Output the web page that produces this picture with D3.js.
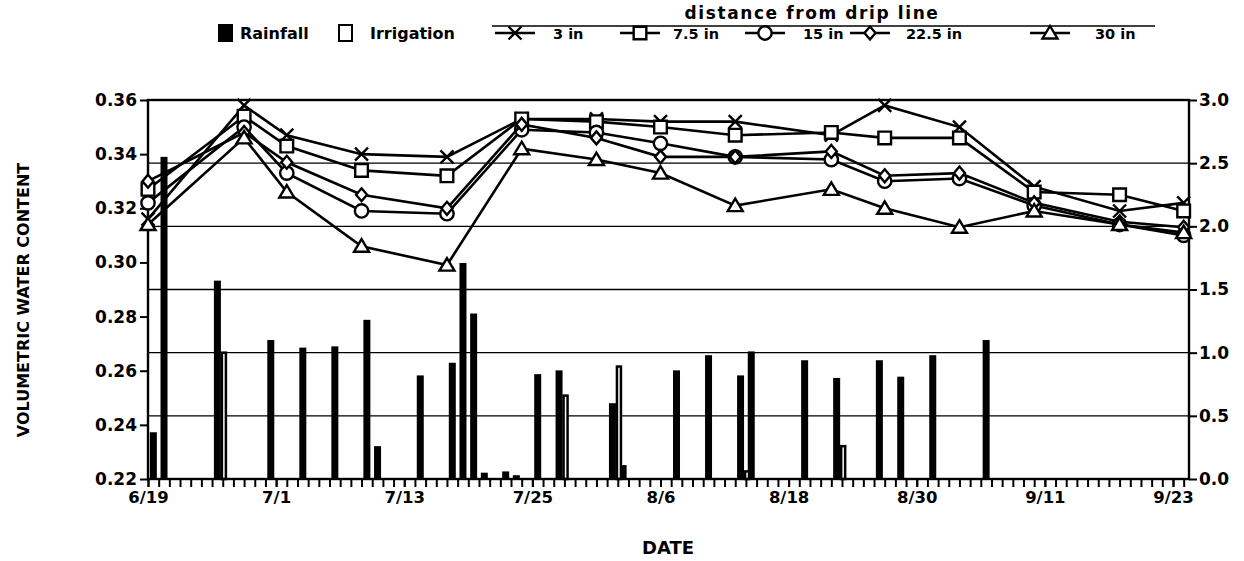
<!DOCTYPE html>
<html>
<head>
<meta charset="utf-8">
<script src="https://cdn.jsdelivr.net/npm/d3@7"></script>
<style>
    body { margin: 0; background: #fff; }
    text { font-family: 'DejaVu Sans', 'Liberation Sans', sans-serif; font-weight: bold; fill: #000; }
</style>
</head>
<body>
<div id="chart"></div>
<script>
// soil moisture sampling dates and volumetric water content at each distance
const sampleDates = ['6/19', '6/28', '7/2', '7/9', '7/17', '7/24', '7/31', '8/6', '8/13', '8/22', '8/27', '9/3', '9/10', '9/18', '9/24']
const vwc3 = [0.316, 0.358, 0.347, 0.340, 0.339, 0.353, 0.353, 0.352, 0.352, 0.347, 0.358, 0.350, 0.328, 0.319, 0.322]
const vwc7_5 = [0.327, 0.354, 0.343, 0.334, 0.332, 0.353, 0.352, 0.350, 0.347, 0.348, 0.346, 0.346, 0.326, 0.325, 0.319]
const vwc15 = [0.322, 0.350, 0.333, 0.319, 0.318, 0.349, 0.348, 0.344, 0.339, 0.338, 0.330, 0.331, 0.321, 0.314, 0.310]
const vwc22_5 = [0.330, 0.348, 0.337, 0.325, 0.320, 0.351, 0.346, 0.339, 0.339, 0.341, 0.332, 0.333, 0.322, 0.315, 0.313]
const vwc30 = [0.314, 0.346, 0.326, 0.306, 0.299, 0.342, 0.338, 0.333, 0.321, 0.327, 0.320, 0.313, 0.319, 0.314, 0.311]

// daily rainfall and irrigation (in)
const rainDates = ['6/19', '6/20', '6/25', '6/30', '7/3', '7/6', '7/9', '7/10', '7/14', '7/17', '7/18', '7/19', '7/20', '7/22', '7/23',
    '7/25', '7/27', '8/1', '8/2', '8/7', '8/10', '8/13', '8/14', '8/19', '8/22', '8/26', '8/28', '8/31', '9/5']
const rainAmounts = [0.37, 2.55, 1.57, 1.10, 1.04, 1.05, 1.26, 0.26, 0.82, 0.92, 1.71, 1.31, 0.05, 0.06, 0.03,
    0.83, 0.86, 0.60, 0.11, 0.86, 0.98, 0.82, 1.01, 0.94, 0.80, 0.94, 0.81, 0.98, 1.10]
const irrigDates = ['6/25', '7/27', '8/1', '8/13', '8/22']
const irrigAmounts = [1.00, 0.66, 0.89, 0.06, 0.26]

const dateLabels = ['6/19', '7/1', '7/13', '7/25', '8/6', '8/18', '8/30', '9/11', '9/23']
const leftTicks = [0.22, 0.24, 0.26, 0.28, 0.30, 0.32, 0.34, 0.36]
const rightTicks = [0, 0.5, 1.0, 1.5, 2.0, 2.5, 3.0]

const seriesNames = ['3 in', '7.5 in', '15 in', '22.5 in', '30 in']
const seriesValues = [vwc3, vwc7_5, vwc15, vwc22_5, vwc30]
const seriesMarkers = ['x', 'square', 'circle', 'diamond', 'triangle']

const parseDate = d3.timeParse('%m/%d')
const width = 1244
const height = 561
const plot = {left: 148, right: 1189, top: 100, bottom: 479}

const svg = d3.select('#chart').append('svg')
    .attr('width', width)
    .attr('height', height)

const x = d3.scaleTime()
    .domain([parseDate('6/19'), d3.timeHour.offset(parseDate('9/24'), 12)])
    .range([plot.left, plot.right])
const yLeft = d3.scaleLinear().domain([0.22, 0.36]).range([plot.bottom, plot.top])
const yRight = d3.scaleLinear().domain([0, 3]).range([plot.bottom, plot.top])
const dayWidth = x(parseDate('6/20')) - x(parseDate('6/19'))

// grid lines from the rainfall axis
svg.append('g')
    .selectAll('line')
    .data(rightTicks.filter(d => d > 0 && d < 3))
    .join('line')
    .attr('x1', plot.left)
    .attr('x2', plot.right)
    .attr('y1', d => yRight(d))
    .attr('y2', d => yRight(d))
    .attr('stroke', '#000')
    .attr('stroke-width', 1.4)

// bars
const barW = 7
svg.append('g')
    .selectAll('rect')
    .data(rainDates.map((d, i) => ({date: parseDate(d), value: rainAmounts[i]})))
    .join('rect')
    .attr('x', d => Math.max(plot.left, x(d.date) + dayWidth / 2 - barW / 2))
    .attr('y', d => yRight(d.value))
    .attr('width', barW)
    .attr('height', d => yRight(0) - yRight(d.value))
    .attr('fill', '#000')

svg.append('g')
    .selectAll('rect')
    .data(irrigDates.map((d, i) => ({date: parseDate(d), value: irrigAmounts[i]})))
    .join('rect')
    .attr('x', d => x(d.date) + dayWidth / 2 + barW / 2 + 1)
    .attr('y', d => yRight(d.value))
    .attr('width', 4)
    .attr('height', d => yRight(0) - yRight(d.value))
    .attr('fill', '#fff')
    .attr('stroke', '#000')
    .attr('stroke-width', 2.5)

// frame
svg.append('rect')
    .attr('x', plot.left)
    .attr('y', plot.top)
    .attr('width', plot.right - plot.left)
    .attr('height', plot.bottom - plot.top)
    .attr('fill', 'none')
    .attr('stroke', '#000')
    .attr('stroke-width', 2.4)

// axes
const leftAxis = svg.append('g')
    .attr('transform', `translate(${plot.left}, 0)`)
    .call(d3.axisLeft(yLeft).tickValues(leftTicks).tickFormat(d3.format('.2f')).tickSize(8).tickPadding(3))
const rightAxis = svg.append('g')
    .attr('transform', `translate(${plot.right}, 0)`)
    .call(d3.axisRight(yRight).tickValues(rightTicks).tickFormat(d3.format('.1f')).tickSize(8).tickPadding(2))
const dayAxis = svg.append('g')
    .attr('transform', `translate(0, ${plot.bottom})`)
    .call(d3.axisBottom(x)
        .tickValues(d3.timeDay.range(parseDate('6/19'), parseDate('9/25')))
        .tickFormat('')
        .tickSize(8))
const labelAxis = svg.append('g')
    .attr('transform', `translate(0, ${plot.bottom})`)
    .call(d3.axisBottom(x)
        .tickValues(dateLabels.map(parseDate))
        .tickFormat(d3.timeFormat('%-m/%-d'))
        .tickSize(8)
        .tickPadding(4))

;[leftAxis, rightAxis, dayAxis, labelAxis].forEach(g => {
    g.select('.domain').remove()
    g.selectAll('line').attr('stroke', '#000').attr('stroke-width', 2)
    g.selectAll('text')
        .attr('font-size', 17)
        .style('font-family', "'DejaVu Sans', sans-serif")
        .style('font-weight', 'bold')
})
labelAxis.selectAll('text').attr('font-size', 16.5)

svg.append('text')
    .attr('transform', `translate(24, 300) rotate(-90)`)
    .attr('text-anchor', 'middle')
    .attr('dominant-baseline', 'middle')
    .attr('font-size', 16)
    .text('VOLUMETRIC WATER CONTENT')

svg.append('text')
    .attr('x', 668)
    .attr('y', 554)
    .attr('text-anchor', 'middle')
    .attr('font-size', 18)
    .text('DATE')

// markers
const symbolPath = {
    square: d3.symbol(d3.symbolSquare, 160)(),
    circle: d3.symbol(d3.symbolCircle, 140)(),
    diamond: 'M0,-6.5L5.5,0L0,6.5L-5.5,0Z',
    triangle: 'M0,-7L7.5,5.5L-7.5,5.5Z',
    x: 'M-6.5,-6.5L6.5,6.5M-6.5,6.5L6.5,-6.5'
}

function drawMarker (g, type) {
    g.append('path')
        .attr('d', symbolPath[type])
        .attr('fill', type === 'x' ? 'none' : '#fff')
        .attr('stroke', '#000')
        .attr('stroke-width', 2.4)
}

const line = d3.line()
    .x(d => x(d.date))
    .y(d => yLeft(d.value))

seriesValues.forEach((values, s) => {
    const pts = values.map((v, i) => ({date: parseDate(sampleDates[i]), value: v}))
    const g = svg.append('g')
    g.append('path')
        .datum(pts)
        .attr('d', line)
        .attr('fill', 'none')
        .attr('stroke', '#000')
        .attr('stroke-width', 2.6)
    g.selectAll('g')
        .data(pts)
        .join('g')
        .attr('transform', d => `translate(${x(d.date)}, ${yLeft(d.value)})`)
        .each(function () { drawMarker(d3.select(this), seriesMarkers[s]) })
})

// legend
const legend = svg.append('g')
legend.append('rect').attr('x', 218).attr('y', 24).attr('width', 15).attr('height', 18).attr('fill', '#000')
legend.append('text').attr('x', 240).attr('y', 39).attr('font-size', 16).text('Rainfall')
legend.append('rect').attr('x', 339).attr('y', 25).attr('width', 13).attr('height', 16)
    .attr('fill', '#fff').attr('stroke', '#000').attr('stroke-width', 2)
legend.append('text').attr('x', 370).attr('y', 39).attr('font-size', 16).text('Irrigation')

const legendX = [495, 620, 745, 850, 1030]
const legendTextX = [553, 673, 803, 906, 1095]
seriesNames.forEach((name, s) => {
    const g = legend.append('g').attr('transform', `translate(${legendX[s]}, 33)`)
    g.append('line').attr('x1', 0).attr('x2', 40).attr('stroke', '#000').attr('stroke-width', 2.4)
    drawMarker(g.append('g').attr('transform', 'translate(20, 0)'), seriesMarkers[s])
    legend.append('text').attr('x', legendTextX[s]).attr('y', 39).attr('font-size', 14.5).text(name)
})

legend.append('text')
    .attr('x', 812)
    .attr('y', 19)
    .attr('text-anchor', 'middle')
    .attr('font-size', 17)
    .attr('letter-spacing', 1.6)
    .text('distance from drip line')
legend.append('line')
    .attr('x1', 492).attr('x2', 1155)
    .attr('y1', 26).attr('y2', 26)
    .attr('stroke', '#000').attr('stroke-width', 1.4)
</script>
</body>
</html>
